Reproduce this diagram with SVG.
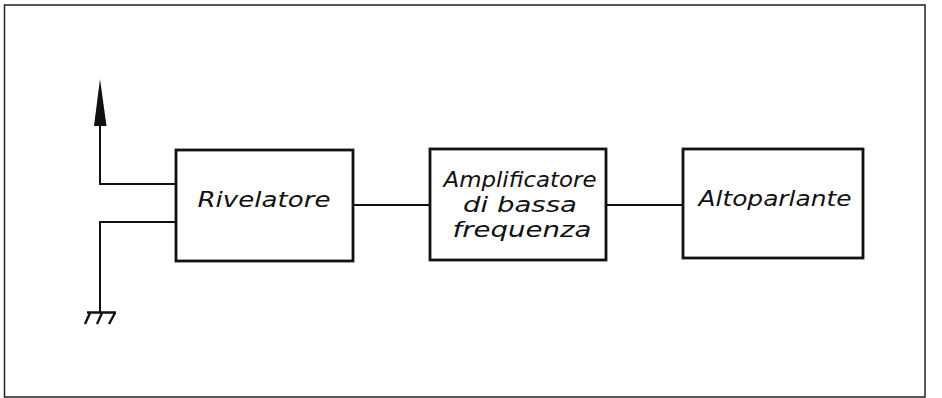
<svg xmlns="http://www.w3.org/2000/svg" width="942" height="398" viewBox="0 0 942 398">
<style>
.box{fill:#fff;stroke:#111;stroke-width:2.8}
.wire{fill:none;stroke:#111;stroke-width:2}
.frame{fill:none;stroke:#222;stroke-width:1.5}
.lbl{font-family:"DejaVu Sans","Liberation Sans",sans-serif;font-style:italic;font-size:21px;fill:#111;text-anchor:middle}
</style>
<rect width="942" height="398" fill="#fff"/>
<rect class="frame" x="4.5" y="5" width="920.5" height="392"/>
<g id="connectors">
<path class="wire" d="M100,122 V184 H176"/>
<polygon points="100,79 94,126 106.5,126" fill="#111"/>
<path class="wire" d="M176,222 H100 V312"/>
<path class="wire" d="M353,205 H430"/>
<path class="wire" d="M606,205 H683"/>
</g>
<g id="ground">
<path class="wire" style="stroke-width:2.4" d="M87,312.5 H116 M90,313 L85,324 M102,313 L97,324 M115,313 L109,324"/>
</g>
<g id="rivelatore">
<rect class="box" x="176" y="150" width="177" height="111"/>
<text class="lbl" x="264" y="207" textLength="133" lengthAdjust="spacingAndGlyphs">Rivelatore</text>
</g>
<g id="amplificatore">
<rect class="box" x="430" y="149" width="176" height="111"/>
<text class="lbl" x="520" y="187" textLength="153" lengthAdjust="spacingAndGlyphs">Amplificatore</text>
<text class="lbl" x="520" y="212" textLength="114" lengthAdjust="spacingAndGlyphs">di bassa</text>
<text class="lbl" x="522" y="237" textLength="139" lengthAdjust="spacingAndGlyphs">frequenza</text>
</g>
<g id="altoparlante">
<rect class="box" x="683" y="149" width="180" height="109"/>
<text class="lbl" x="775" y="206" textLength="153" lengthAdjust="spacingAndGlyphs">Altoparlante</text>
</g>
</svg>
